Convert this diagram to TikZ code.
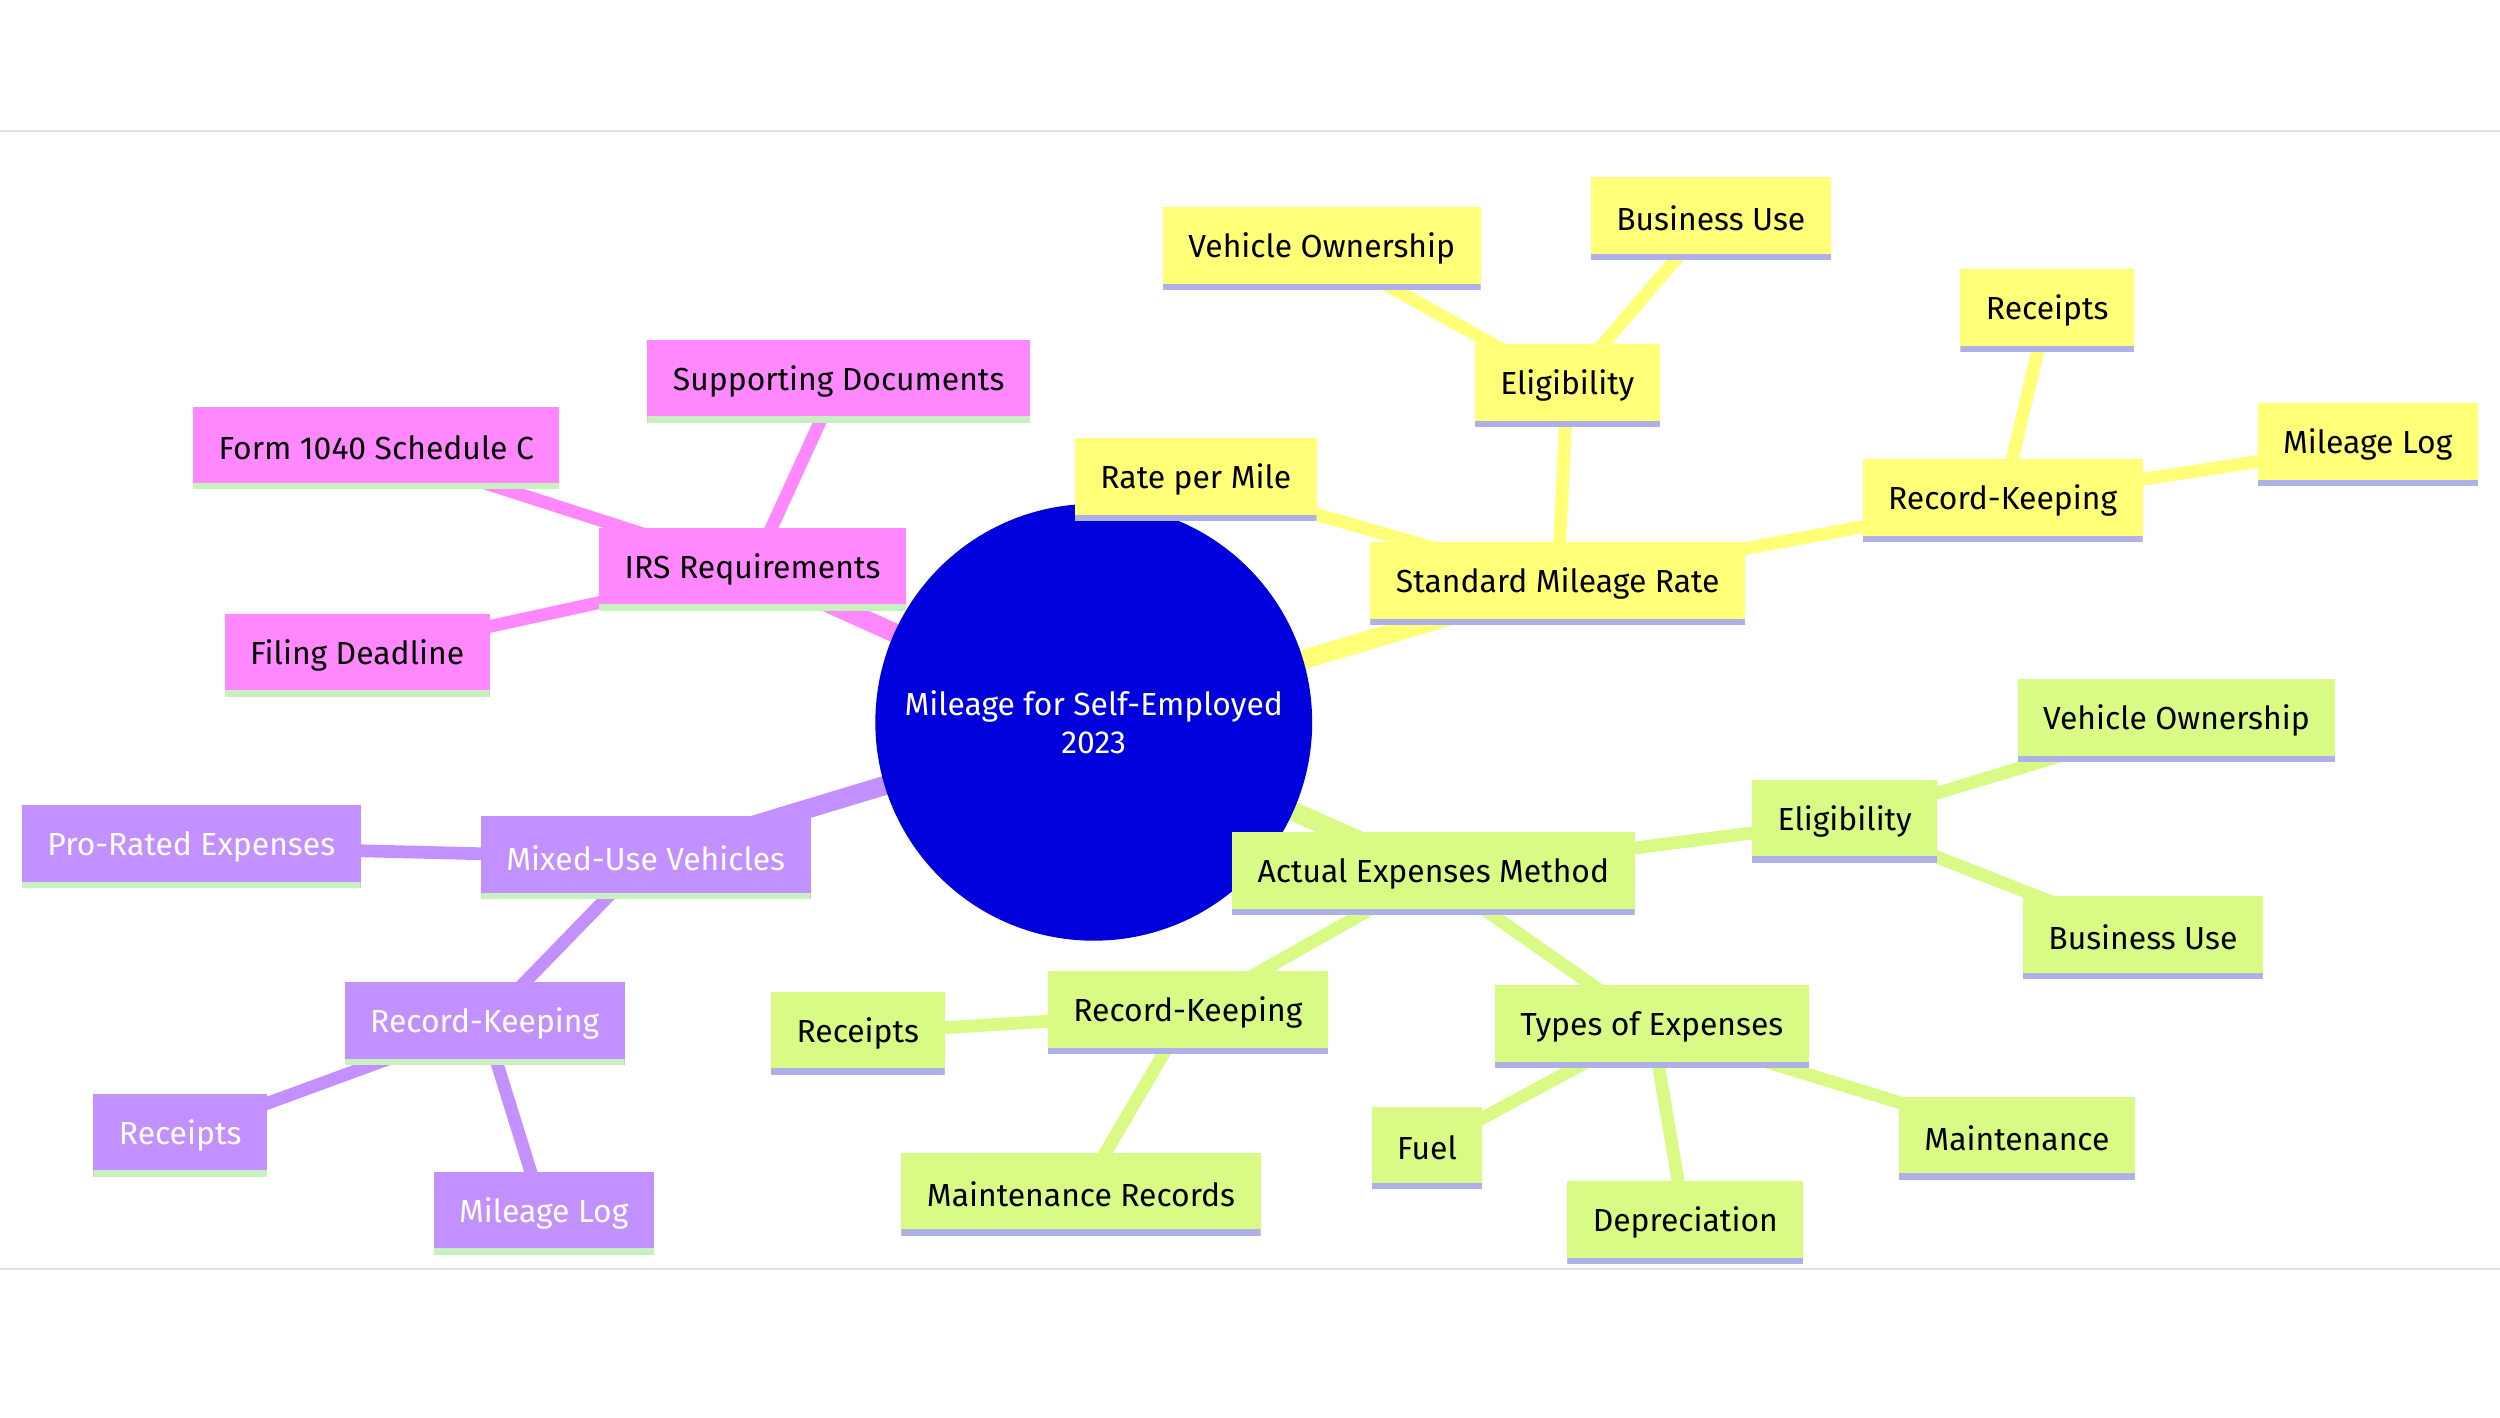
\documentclass[tikz,border=0pt]{standalone}
\usepackage{fontspec}
\setmainfont{Fira Sans}
\usetikzlibrary{backgrounds}
\definecolor{yel}{HTML}{FFFF78}
\definecolor{grn}{HTML}{D9FA84}
\definecolor{pnk}{HTML}{FF88FF}
\definecolor{pur}{HTML}{C391FF}
\definecolor{lav}{HTML}{B0B0E8}
\definecolor{lgr}{HTML}{C8F0C0}
\definecolor{rootc}{HTML}{0000DD}
\tikzset{
  box/.style={rectangle,minimum height=26pt,inner xsep=8pt,font=\fontsize{10}{12}\selectfont,
    path picture={\draw[line width=2pt,#1] ([yshift=1pt]path picture bounding box.south west) -- ([yshift=1pt]path picture bounding box.south east);}},
  Y/.style={box=lav,fill=yel},
  G/.style={box=lav,fill=grn},
  P/.style={box=lgr,fill=pnk},
  U/.style={box=lgr,fill=pur,text=white},
  e1/.style={line width=6pt},
  e2/.style={line width=4pt},
}
\begin{document}
\begin{tikzpicture}[x=0.5pt,y=-0.5pt]
\useasboundingbox (0,0) rectangle (1568,889);
\draw[black!12,line width=0.5pt] (0,82) -- (1568,82) (0,796) -- (1568,796);
\node[circle,fill=rootc,minimum size=137pt,text=white,align=center,font=\fontsize{10}{12}\selectfont] (root) at (686,453) {Mileage for Self-Employed\\2023};
% yellow
\node[Y] (smr) at (977,366) {Standard Mileage Rate};
\node[Y] (rpm) at (750,301) {Rate per Mile};
\node[Y] (el1) at (983,242) {Eligibility};
\node[Y] (vo1) at (829,156) {Vehicle Ownership};
\node[Y] (bu1) at (1073,137) {Business Use};
\node[Y] (rk1) at (1256,314) {Record-Keeping};
\node[Y] (rc1) at (1284,195) {Receipts};
\node[Y] (ml1) at (1485,279) {Mileage Log};
% green
\node[G] (aem) at (899,548) {Actual Expenses Method};
\node[G] (el2) at (1157,515) {Eligibility};
\node[G] (vo2) at (1365,452) {Vehicle Ownership};
\node[G] (bu2) at (1344,588) {Business Use};
\node[G] (toe) at (1036,644) {Types of Expenses};
\node[G] (fu) at (895,720) {Fuel};
\node[G] (de) at (1057,767) {Depreciation};
\node[G] (ma) at (1265,714) {Maintenance};
\node[G] (rk2) at (745,635) {Record-Keeping};
\node[G] (rc2) at (538,648) {Receipts};
\node[G] (mr) at (678,749) {Maintenance Records};
% pink
\node[P] (irs) at (472,357) {IRS Requirements};
\node[P] (sd) at (526,239) {Supporting Documents};
\node[P] (form) at (236,281) {Form 1040 Schedule C};
\node[P] (fd) at (224,411) {Filing Deadline};
% purple
\node[U] (muv) at (405,538) {Mixed-Use Vehicles};
\node[U] (pre) at (120,531) {Pro-Rated Expenses};
\node[U] (rk3) at (304,642) {Record-Keeping};
\node[U] (rc3) at (113,712) {Receipts};
\node[U] (ml3) at (341,761) {Mileage Log};
\begin{scope}[on background layer]
\draw[yel,e1] (root.center) -- (smr.center);
\draw[yel,e2] (smr.center) -- (rpm.center) (smr.center) -- (el1.center) (el1.center) -- (vo1.center) (el1.center) -- (bu1.center) (smr.center) -- (rk1.center) (rk1.center) -- (rc1.center) (rk1.center) -- (ml1.center);
\draw[grn,e1] (root.center) -- (aem.center);
\draw[grn,e2] (aem.center) -- (el2.center) (el2.center) -- (vo2.center) (el2.center) -- (bu2.center) (aem.center) -- (toe.center) (toe.center) -- (fu.center) (toe.center) -- (de.center) (toe.center) -- (ma.center) (aem.center) -- (rk2.center) (rk2.center) -- (rc2.center) (rk2.center) -- (mr.center);
\draw[pnk,e1] (root.center) -- (irs.center);
\draw[pnk,e2] (irs.center) -- (sd.center) (irs.center) -- (form.center) (irs.center) -- (fd.center);
\draw[pur,e1] (root.center) -- (muv.center);
\draw[pur,e2] (muv.center) -- (pre.center) (muv.center) -- (rk3.center) (rk3.center) -- (rc3.center) (rk3.center) -- (ml3.center);
\end{scope}
\end{tikzpicture}
\end{document}
